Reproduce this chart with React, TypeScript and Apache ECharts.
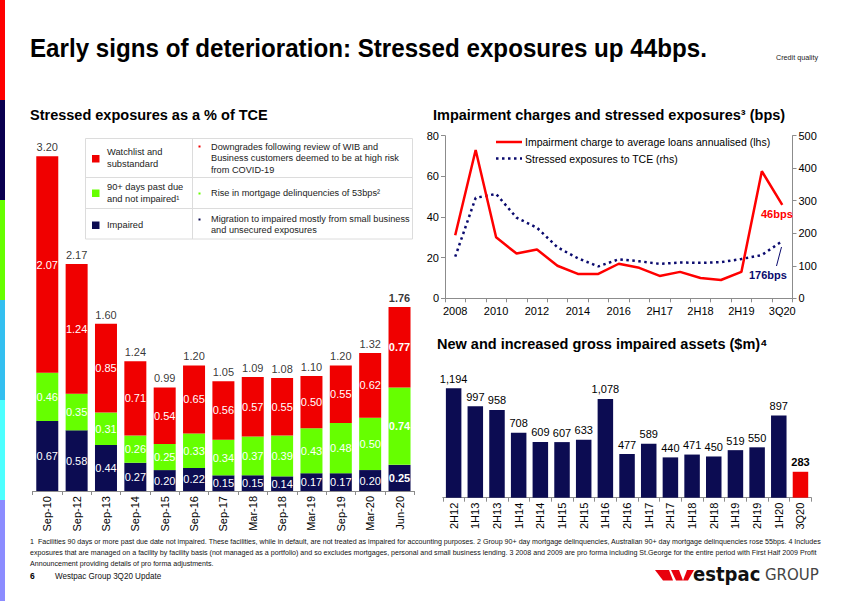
import React, { useEffect, useRef } from "react";
import * as echarts from "echarts";

// ---------- data ----------
const leftCats = ["Sep-10", "Sep-12", "Sep-13", "Sep-14", "Sep-15", "Sep-16", "Sep-17", "Mar-18", "Sep-18", "Mar-19", "Sep-19", "Mar-20", "Jun-20"];
const impaired = [0.67, 0.58, 0.44, 0.27, 0.2, 0.22, 0.15, 0.15, 0.14, 0.17, 0.17, 0.2, 0.25];
const pastDue = [0.46, 0.35, 0.31, 0.26, 0.25, 0.33, 0.34, 0.37, 0.39, 0.43, 0.48, 0.5, 0.74];
const watchlist = [2.07, 1.24, 0.85, 0.71, 0.54, 0.65, 0.56, 0.57, 0.55, 0.5, 0.55, 0.62, 0.77];
const totals = [3.2, 2.17, 1.6, 1.24, 0.99, 1.2, 1.05, 1.09, 1.08, 1.1, 1.2, 1.32, 1.76];

const lineCats = ["2008", "2009", "2010", "2011", "2012", "2013", "2014", "2015", "2016", "1H17", "2H17", "1H18", "2H18", "1H19", "2H19", "1H20", "3Q20"];
const impairmentCharge = [31, 73, 30, 22, 24, 16, 12, 12, 17, 15, 11, 13, 10, 9, 13, 62.5, 46];
const stressedExposures = [128, 309, 321, 248, 217, 157, 123, 98, 120, 114, 106, 110, 109, 111, 121, 133, 176];

const giaCats = ["2H12", "1H13", "2H13", "1H14", "2H14", "1H15", "2H15", "1H16", "2H16", "1H17", "2H17", "1H18", "2H18", "1H19", "2H19", "1H20", "3Q20"];
const giaValues = [1194, 997, 958, 708, 609, 607, 633, 1078, 477, 589, 440, 471, 450, 519, 550, 897, 283];

const footnotes = [
  "1  Facilities 90 days or more past due date not impaired. These facilities, while in default, are not treated as impaired for accounting purposes. 2 Group 90+ day mortgage delinquencies, Australian 90+ day mortgage delinquencies rose 55bps. 4 Includes",
  "exposures that are managed on a facility by facility basis (not managed as a portfolio) and so excludes mortgages, personal and small business lending. 3 2008 and 2009 are pro forma including St.George for the entire period with First Half 2009 Profit",
  "Announcement providing details of pro forma adjustments.",
];

// ---------- style ----------
const FF = '"Liberation Sans", Arial, Helvetica, sans-serif';
const RED = "#f00000";
const GREEN = "#66ff00";
const NAVY = "#0c0c52";
const AXIS = "#8c8c8c";

function txt(x: number, y: number, text: string, o: any = {}) {
  return {
    type: "text",
    x,
    y,
    scaleX: o.scaleX ?? 1,
    z: 100,
    style: {
      text,
      fill: o.fill ?? "#000",
      fontSize: o.size ?? 11,
      fontWeight: o.weight ?? "normal",
      fontFamily: o.family ?? FF,
      lineHeight: o.lh,
      textAlign: o.align ?? "left",
      textVerticalAlign: o.va ?? "middle",
      align: o.align ?? "left",
      verticalAlign: o.va ?? "middle",
    },
  };
}

function rect(x: number, y: number, w: number, h: number, fill: string, stroke?: string) {
  return {
    type: "rect",
    z: 99,
    shape: { x, y, width: w, height: h },
    style: { fill, stroke: stroke ?? null, lineWidth: 1 },
  };
}

function line(x1: number, y1: number, x2: number, y2: number, stroke: string, w = 1, dash?: number[]) {
  return {
    type: "line",
    z: 100,
    shape: { x1, y1, x2, y2 },
    style: { stroke, lineWidth: w, lineDash: dash },
  };
}

function poly(points: number[][], fill: string) {
  return { type: "polygon", z: 100, shape: { points }, style: { fill } };
}

const fmt2 = (v: number) => v.toFixed(2);

export default function App() {
  const ref = useRef<HTMLDivElement>(null);

  useEffect(() => {
    document.body.style.margin = "0";
    if (!ref.current) return;
    const chart = echarts.init(ref.current, undefined, { renderer: "svg" });

    const lastL = leftCats.length - 1;
    const lastG = giaCats.length - 1;

    const stackSeries = (name: string, data: number[], color: string) => ({
      name,
      type: "bar",
      stack: "se",
      xAxisIndex: 0,
      yAxisIndex: 0,
      barWidth: 22,
      itemStyle: { color },
      label: {
        show: true,
        position: "inside",
        color: "#fff",
        fontSize: 11,
        fontFamily: FF,
        formatter: (p: any) => fmt2(p.value),
      },
      data: data.map((v, i) => (i === lastL ? { value: v, label: { fontWeight: "bold" } } : v)),
    });

    const bY = 491;
    const ppu = 104.6;
    const leftMax = 3.5;

    const graphic: any[] = [];
    // left colour stripe
    ["#ff0000", "#0a0050", "#66ff00", "#33bff0", "#4dffff", "#8c8cff"].forEach((c, i) => {
      graphic.push(rect(0, i * 100, 5, i === 5 ? 101 : 100, c));
    });
    // title + header
    graphic.push(txt(30, 48, "Early signs of deterioration: Stressed exposures up 44bps.", { size: 26, weight: "bold", scaleX: 0.93 }));
    graphic.push(txt(776, 57, "Credit quality", { size: 8, fill: "#222", scaleX: 0.9 }));
    // subtitles
    graphic.push(txt(30, 115, "Stressed exposures as a % of TCE", { size: 14.5, weight: "bold" }));
    graphic.push(txt(433, 115, "Impairment charges and stressed exposures³ (bps)", { size: 14.5, weight: "bold" }));
    graphic.push(txt(437, 344, "New and increased gross impaired assets ($m)⁴", { size: 14.5, weight: "bold" }));

    // legend table
    graphic.push(rect(85.5, 138.5, 327, 100.5, "#fff", "#dcdcdc"));
    graphic.push(line(85.5, 177.5, 412.5, 177.5, "#dcdcdc"));
    graphic.push(line(85.5, 208.5, 412.5, 208.5, "#dcdcdc"));
    graphic.push(line(192.5, 138.5, 192.5, 239, "#dcdcdc"));
    graphic.push(rect(92, 155, 7.5, 7.5, RED));
    graphic.push(rect(92, 189.5, 7.5, 7.5, GREEN));
    graphic.push(rect(92, 221.5, 7.5, 7.5, NAVY));
    graphic.push(txt(107, 158, "Watchlist and\nsubstandard", { size: 9.3, lh: 11.5, fill: "#222" }));
    graphic.push(txt(107, 193, "90+ days past due\nand not impaired¹", { size: 9.3, lh: 11.5, fill: "#222" }));
    graphic.push(txt(107, 225, "Impaired", { size: 9.3, fill: "#222" }));
    graphic.push(rect(198.5, 145.5, 2, 2, RED));
    graphic.push(rect(198.5, 192.5, 2, 2, GREEN));
    graphic.push(rect(198.5, 218.5, 2, 2, NAVY));
    graphic.push(txt(211, 158, "Downgrades following review of WIB and\nBusiness customers deemed to be at high risk\nfrom COVID-19", { size: 9.2, lh: 11.5, fill: "#222" }));
    graphic.push(txt(211, 193, "Rise in mortgage delinquencies of 53bps²", { size: 9.2, fill: "#222" }));
    graphic.push(txt(211, 224.5, "Migration to impaired mostly from small business\nand unsecured exposures", { size: 9.2, lh: 11.5, fill: "#222" }));

    // line chart legend
    graphic.push(line(496, 142, 522, 142, "#ff0000", 2.5));
    graphic.push(txt(525, 142, "Impairment charge to average loans annualised (lhs)", { size: 10.5 }));
    graphic.push(line(496, 158.5, 522, 158.5, "#0a0a6e", 2.5, [2.5, 3.5]));
    graphic.push(txt(525, 158.5, "Stressed exposures to TCE (rhs)", { size: 10.5 }));
    // annotations
    graphic.push(txt(761, 214, "46bps", { size: 11, weight: "bold", fill: "#ff0000" }));
    graphic.push(txt(749, 275, "176bps", { size: 11, weight: "bold", fill: "#0a0a6e" }));
    graphic.push(line(781.5, 247, 776.5, 266, "#0a0a6e", 1));

    // footnotes
    footnotes.forEach((f, i) => {
      graphic.push(txt(30, 541.5 + i * 11, f, { size: 7.5, fill: "#111", scaleX: 0.948 }));
    });
    graphic.push(txt(30, 576, "6", { size: 8.5, weight: "bold" }));
    graphic.push(txt(55, 576, "Westpac Group 3Q20 Update", { size: 8.5, fill: "#111", scaleX: 0.95 }));

    // logo
    graphic.push(poly([[655, 570], [669, 570], [673, 580.5], [663, 580.5]], "#e8000d"));
    graphic.push(poly([[671, 570], [679, 570], [683, 580.5], [676, 580.5]], "#e8000d"));
    graphic.push(poly([[683, 580.5], [688, 580.5], [694, 570], [687, 570]], "#e8000d"));
    graphic.push(txt(693, 574, "estpac", { size: 19, weight: "bold", family: '"DejaVu Sans", sans-serif', fill: "#111", scaleX: 0.95 }));
    graphic.push(txt(765, 575, "GROUP", { size: 15, family: '"DejaVu Sans", sans-serif', fill: "#444" }));

    const catAxisBase = (gridIndex: number, data: string[], extra: any = {}) => ({
      type: "category",
      gridIndex,
      data,
      boundaryGap: true,
      axisLine: { show: true, lineStyle: { color: AXIS, width: 1 } },
      axisTick: { show: true, length: 4, interval: 0, lineStyle: { color: AXIS } },
      axisLabel: { fontSize: 11, color: "#000", fontFamily: FF, interval: 0, ...extra },
    });

    const option: any = {
      animation: false,
      textStyle: { fontFamily: FF },
      grid: [
        { left: 32.6, top: bY - leftMax * ppu, width: 381.6, height: leftMax * ppu, outerBoundsMode: "none" },
        { left: 445, top: 135.7, width: 347.5, height: 162.6, outerBoundsMode: "none" },
        { left: 442.8, top: 497.7 - 1400 * 0.0916, width: 368.5, height: 1400 * 0.0916, outerBoundsMode: "none" },
      ],
      xAxis: [
        catAxisBase(0, leftCats, { rotate: 90, margin: 5 }),
        catAxisBase(1, lineCats, { interval: 1, margin: 7 }),
        catAxisBase(2, giaCats, { rotate: 90, margin: 5 }),
      ],
      yAxis: [
        { type: "value", gridIndex: 0, min: 0, max: leftMax, show: false },
        {
          type: "value",
          gridIndex: 1,
          min: 0,
          max: 80,
          interval: 20,
          position: "left",
          axisLine: { show: true, lineStyle: { color: AXIS } },
          axisTick: { show: true, length: 4, lineStyle: { color: AXIS } },
          splitLine: { show: false },
          axisLabel: { fontSize: 11, color: "#000", margin: 6 },
        },
        {
          type: "value",
          gridIndex: 1,
          min: 0,
          max: 500,
          interval: 100,
          position: "right",
          axisLine: { show: true, lineStyle: { color: AXIS } },
          axisTick: { show: true, length: 4, lineStyle: { color: AXIS } },
          splitLine: { show: false },
          axisLabel: { fontSize: 11, color: "#000", margin: 6 },
        },
        { type: "value", gridIndex: 2, min: 0, max: 1400, show: false },
      ],
      series: [
        stackSeries("Impaired", impaired, NAVY),
        stackSeries("90+ days past due and not impaired", pastDue, GREEN),
        stackSeries("Watchlist and substandard", watchlist, RED),
        {
          name: "Total",
          type: "scatter",
          xAxisIndex: 0,
          yAxisIndex: 0,
          symbolSize: 1,
          itemStyle: { color: "rgba(0,0,0,0)" },
          label: {
            show: true,
            position: "top",
            distance: 3,
            color: "#000",
            fontSize: 11,
            fontFamily: FF,
            formatter: (p: any) => fmt2(p.value),
          },
          data: totals.map((v, i) => (i === lastL ? { value: v, label: { fontWeight: "bold" } } : v)),
          z: 5,
        },
        {
          name: "Impairment charge to average loans annualised (lhs)",
          type: "line",
          xAxisIndex: 1,
          yAxisIndex: 1,
          symbol: "none",
          lineStyle: { color: "#ff0000", width: 2.5 },
          data: impairmentCharge,
          z: 4,
        },
        {
          name: "Stressed exposures to TCE (rhs)",
          type: "line",
          xAxisIndex: 1,
          yAxisIndex: 2,
          symbol: "none",
          lineStyle: { color: "#0a0a6e", width: 2.5, type: [2.5, 3.5] },
          data: stressedExposures,
          z: 3,
        },
        {
          name: "New and increased gross impaired assets",
          type: "bar",
          xAxisIndex: 2,
          yAxisIndex: 3,
          barWidth: 15.5,
          label: {
            show: true,
            position: "top",
            distance: 4,
            color: "#000",
            fontSize: 11,
            fontFamily: FF,
            formatter: (p: any) => Number(p.value).toLocaleString("en-US"),
          },
          data: giaValues.map((v, i) =>
            i === lastG
              ? { value: v, itemStyle: { color: RED }, label: { fontWeight: "bold" } }
              : { value: v, itemStyle: { color: NAVY } }
          ),
        },
      ],
      graphic: { elements: graphic },
    };

    chart.setOption(option);
    return () => chart.dispose();
  }, []);

  return <div ref={ref} style={{ width: 850, height: 601 }} />;
}
